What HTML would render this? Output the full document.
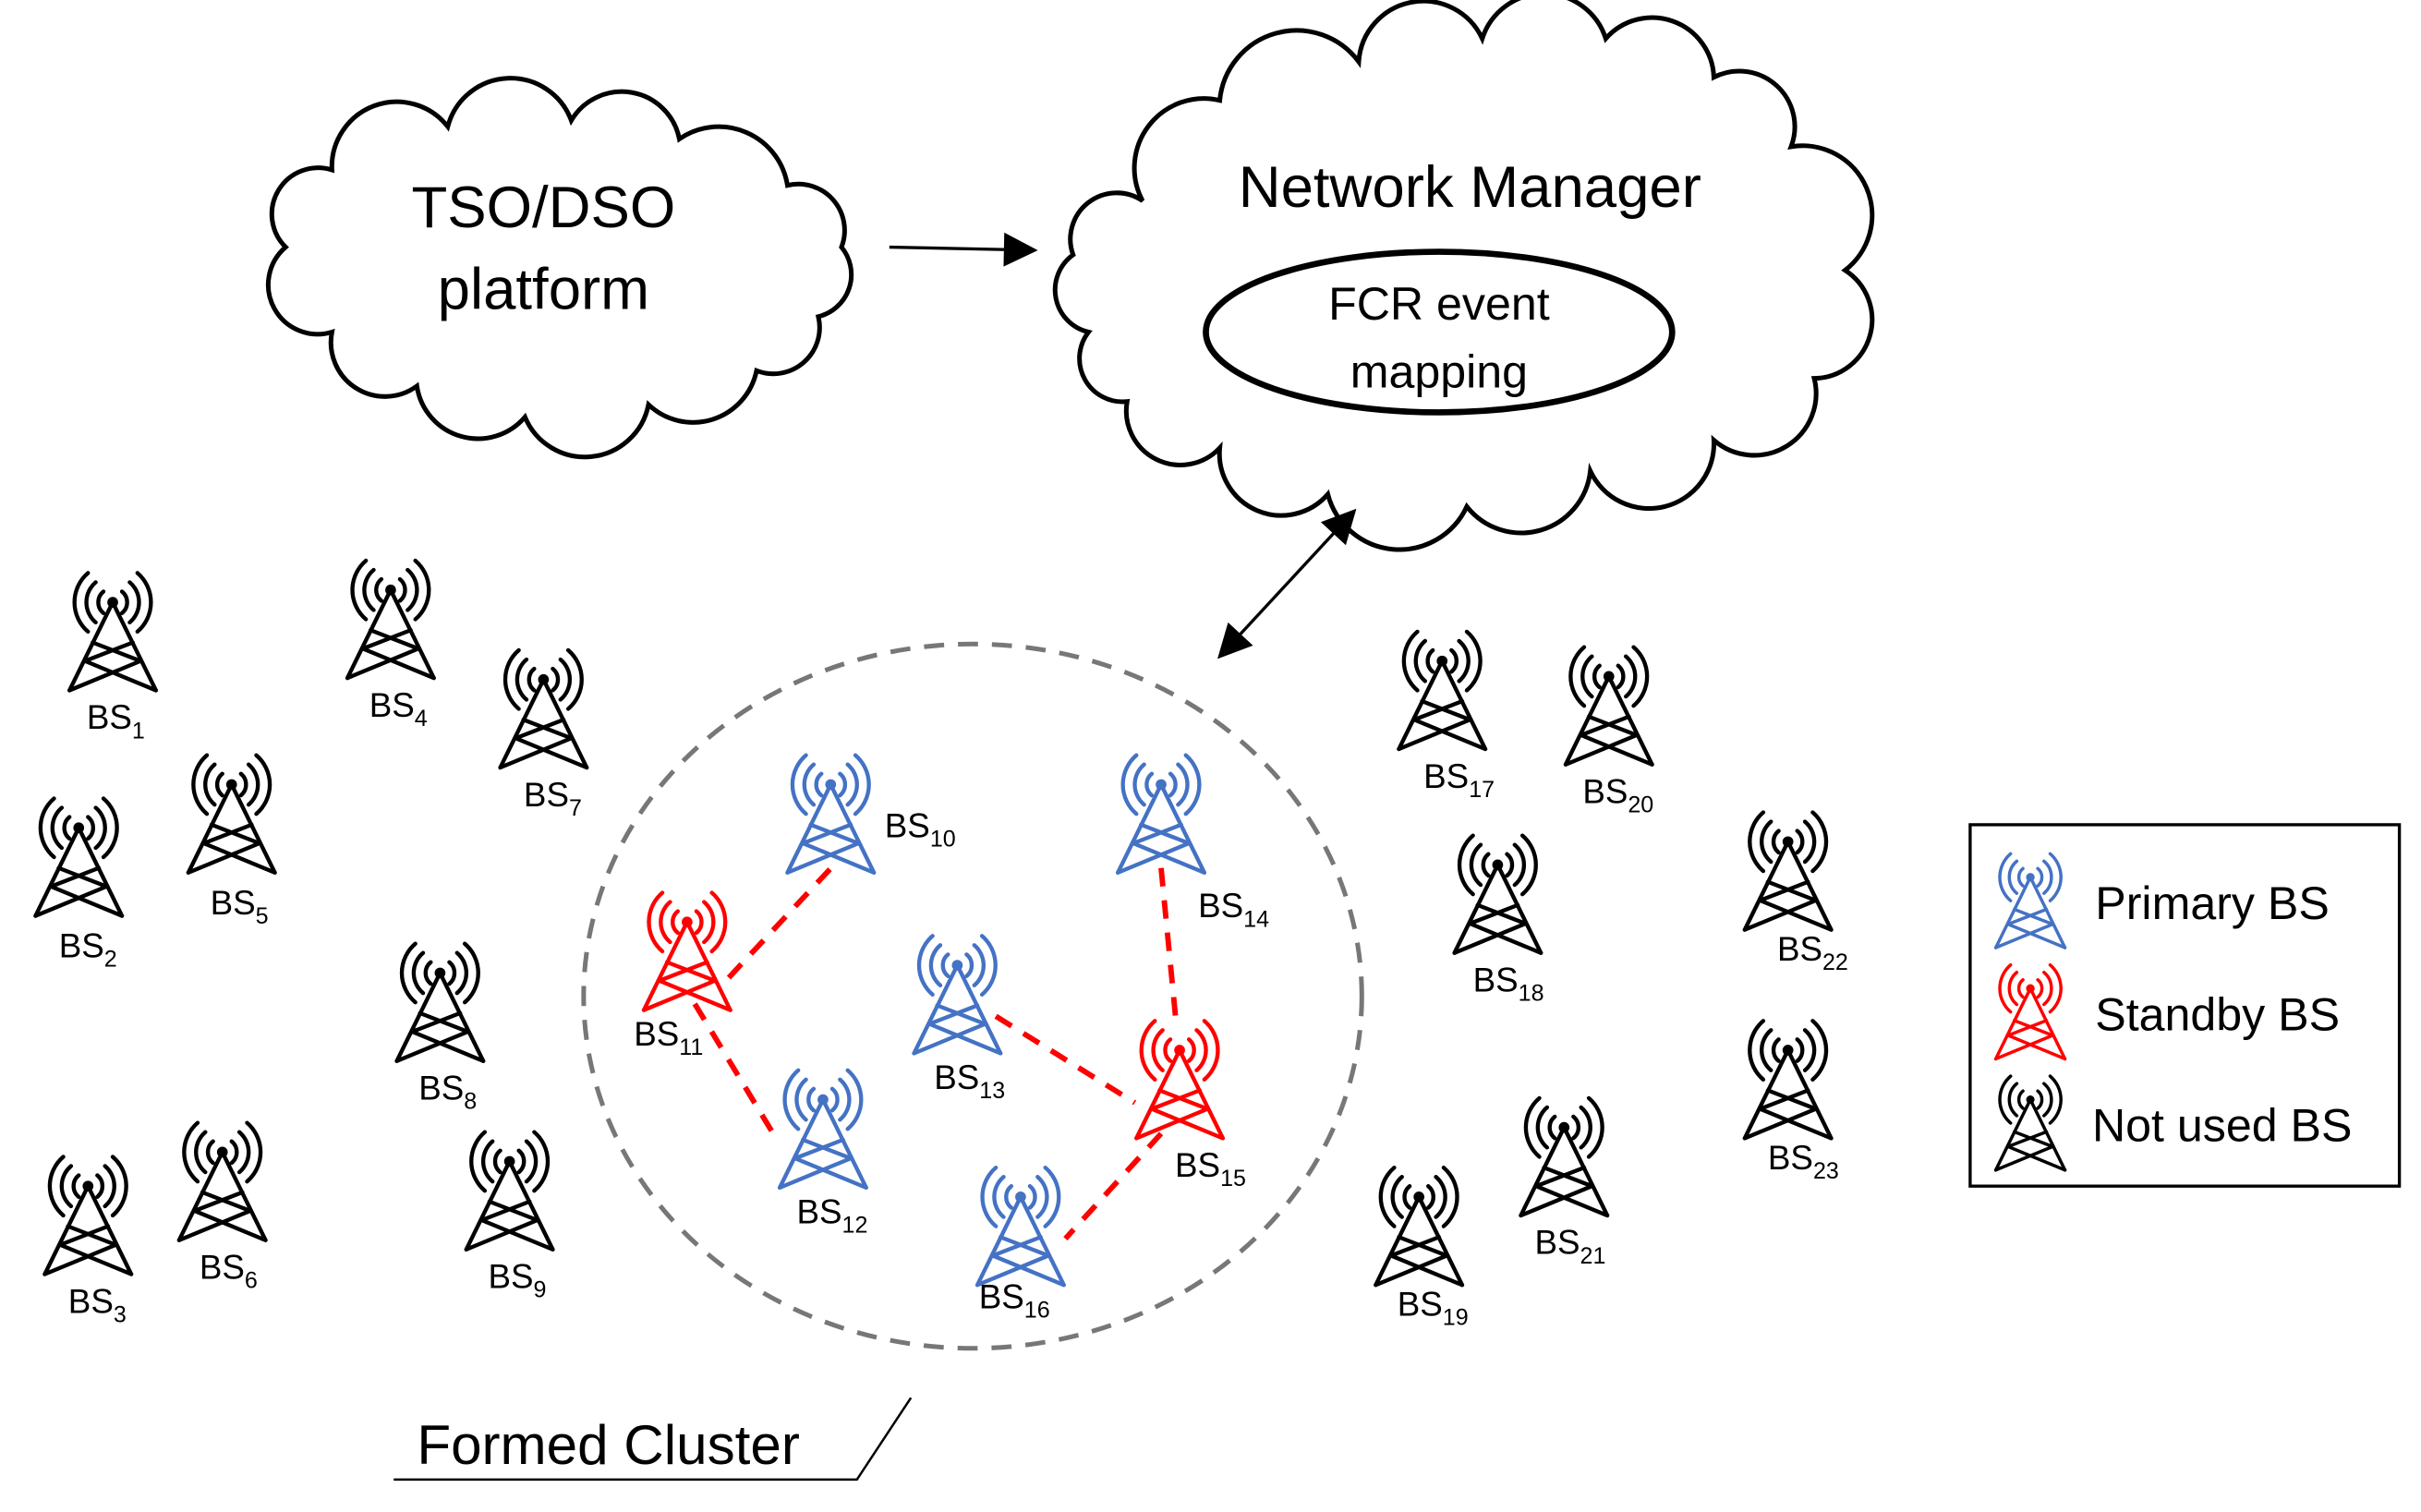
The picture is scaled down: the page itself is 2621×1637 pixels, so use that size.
<!DOCTYPE html>
<html><head><meta charset="utf-8"><style>
html,body{margin:0;padding:0;background:#fff;}
svg{display:block;}
text{font-family:"Liberation Sans",sans-serif;}
</style></head><body>
<svg width="2621" height="1637" viewBox="0 0 1568 979" preserveAspectRatio="none" xmlns="http://www.w3.org/2000/svg">
<defs>
<g id="tw" fill="none" stroke-width="2.6" stroke-linecap="round">
  <path d="M0,0 L-28,57 M0,0 L28,57"/>
  <path d="M-13,26 L18,38 M13,26 L-18,38 M-18,38 L28,57 M18,38 L-28,57"/>
  <path d="M-6,-7 A9,9 0 0 0 -6,7 M6,-7 A9,9 0 0 1 6,7"/>
  <path d="M-11,-13 A17,17 0 0 0 -11,13 M11,-13 A17,17 0 0 1 11,13"/>
  <path d="M-16,-19 A25,25 0 0 0 -16,19 M16,-19 A25,25 0 0 1 16,19"/>
</g>
<marker id="ah" markerWidth="10" markerHeight="10" refX="9" refY="5" orient="auto" markerUnits="userSpaceOnUse"><path d="M0,0 L24,5 L0,10Z" fill="#000"/></marker>
<marker id="a2" viewBox="0 0 10 10" markerWidth="24" markerHeight="22" refX="9" refY="5" orient="auto-start-reverse" markerUnits="userSpaceOnUse"><path d="M0,0 L10,5 L0,10Z" fill="#000"/></marker>
</defs>

<!-- TSO cloud -->
<path d="M215,110 A42,42 0 0 1 290,82 A42,42 0 0 1 370,78 A38,38 0 0 1 440,90 A45,45 0 0 1 510,120 A30,30 0 0 1 545,160 A28,28 0 0 1 530,205 A30,30 0 0 1 490,240 A42,42 0 0 1 420,262 A42,42 0 0 1 340,270 A40,40 0 0 1 270,250 A35,35 0 0 1 215,215 A32,32 0 0 1 185,160 A30,30 0 0 1 215,110Z" fill="#fff" stroke="#000" stroke-width="3"/>
<text x="352" y="147" font-size="38" text-anchor="middle">TSO/DSO</text>
<text x="352" y="200" font-size="38" text-anchor="middle">platform</text>

<!-- NM cloud -->
<path d="M740,130 A45,45 0 0 1 790,65 A50,50 0 0 1 880,40 A42,42 0 0 1 960,25 A42,42 0 0 1 1040,25 A40,40 0 0 1 1110,50 A36,36 0 0 1 1160,95 A45,45 0 0 1 1195,175 A38,38 0 0 1 1175,245 A40,40 0 0 1 1110,285 A42,42 0 0 1 1030,305 A45,45 0 0 1 950,328 A48,48 0 0 1 860,320 A40,40 0 0 1 790,290 A35,35 0 0 1 730,260 A28,28 0 0 1 705,215 A28,28 0 0 1 695,165 A30,30 0 0 1 740,130Z" fill="#fff" stroke="#000" stroke-width="3"/>
<text x="952" y="134" font-size="38" text-anchor="middle">Network Manager</text>
<ellipse cx="932" cy="215" rx="151" ry="52" fill="#fff" stroke="#000" stroke-width="4"/>
<text x="932" y="207" font-size="30" text-anchor="middle">FCR event</text>
<text x="932" y="251" font-size="30" text-anchor="middle">mapping</text>

<!-- arrows -->
<line x1="576" y1="160" x2="670" y2="162" stroke="#000" stroke-width="2" marker-end="url(#a2)"/>
<line x1="790" y1="425" x2="877" y2="331" stroke="#000" stroke-width="2" marker-start="url(#a2)" marker-end="url(#a2)"/>

<!-- cluster circle -->
<ellipse cx="630" cy="645" rx="252" ry="228" fill="none" stroke="#777" stroke-width="3" stroke-dasharray="13 9"/>

<!-- red dashed links -->
<g stroke="#f00" stroke-width="3.5" stroke-dasharray="12 9" fill="none">
<line x1="472" y1="633" x2="542" y2="558"/>
<line x1="450" y1="650" x2="502" y2="736"/>
<line x1="645" y1="658" x2="735" y2="714"/>
<line x1="752" y1="562" x2="762" y2="665"/>
<line x1="752" y1="734" x2="690" y2="802"/>
</g>

<!-- towers -->
<g stroke="#000" fill="#000">
<use href="#tw" x="73" y="390"/><circle cx="73" cy="390" r="3"/>
<use href="#tw" x="253" y="382"/><circle cx="253" cy="382" r="3"/>
<use href="#tw" x="352" y="440"/><circle cx="352" cy="440" r="3"/>
<use href="#tw" x="150" y="508"/><circle cx="150" cy="508" r="3"/>
<use href="#tw" x="51" y="536"/><circle cx="51" cy="536" r="3"/>
<use href="#tw" x="285" y="630"/><circle cx="285" cy="630" r="3"/>
<use href="#tw" x="57" y="768"/><circle cx="57" cy="768" r="3"/>
<use href="#tw" x="144" y="746"/><circle cx="144" cy="746" r="3"/>
<use href="#tw" x="330" y="752"/><circle cx="330" cy="752" r="3"/>
<use href="#tw" x="934" y="428"/><circle cx="934" cy="428" r="3"/>
<use href="#tw" x="1042" y="438"/><circle cx="1042" cy="438" r="3"/>
<use href="#tw" x="970" y="560"/><circle cx="970" cy="560" r="3"/>
<use href="#tw" x="1158" y="545"/><circle cx="1158" cy="545" r="3"/>
<use href="#tw" x="1158" y="680"/><circle cx="1158" cy="680" r="3"/>
<use href="#tw" x="1013" y="730"/><circle cx="1013" cy="730" r="3"/>
<use href="#tw" x="919" y="775"/><circle cx="919" cy="775" r="3"/>
</g>
<g stroke="#4472C4" fill="#4472C4">
<use href="#tw" x="538" y="508"/><circle cx="538" cy="508" r="3"/>
<use href="#tw" x="752" y="508"/><circle cx="752" cy="508" r="3"/>
<use href="#tw" x="620" y="625"/><circle cx="620" cy="625" r="3"/>
<use href="#tw" x="533" y="712"/><circle cx="533" cy="712" r="3"/>
<use href="#tw" x="661" y="775"/><circle cx="661" cy="775" r="3"/>
</g>
<g stroke="#f00" fill="#f00">
<use href="#tw" x="445" y="597"/><circle cx="445" cy="597" r="3"/>
<use href="#tw" x="764" y="680"/><circle cx="764" cy="680" r="3"/>
</g>

<!-- labels -->
<g font-size="22" text-anchor="middle">
<text x="75" y="472">BS<tspan font-size="15" dy="6">1</tspan></text>
<text x="258" y="464">BS<tspan font-size="15" dy="6">4</tspan></text>
<text x="358" y="522">BS<tspan font-size="15" dy="6">7</tspan></text>
<text x="155" y="592">BS<tspan font-size="15" dy="6">5</tspan></text>
<text x="57" y="620">BS<tspan font-size="15" dy="6">2</tspan></text>
<text x="290" y="712">BS<tspan font-size="15" dy="6">8</tspan></text>
<text x="63" y="850">BS<tspan font-size="15" dy="6">3</tspan></text>
<text x="148" y="828">BS<tspan font-size="15" dy="6">6</tspan></text>
<text x="335" y="834">BS<tspan font-size="15" dy="6">9</tspan></text>
<text x="596" y="542">BS<tspan font-size="15" dy="6">10</tspan></text>
<text x="433" y="677">BS<tspan font-size="15" dy="6">11</tspan></text>
<text x="799" y="594">BS<tspan font-size="15" dy="6">14</tspan></text>
<text x="628" y="705">BS<tspan font-size="15" dy="6">13</tspan></text>
<text x="539" y="792">BS<tspan font-size="15" dy="6">12</tspan></text>
<text x="784" y="762">BS<tspan font-size="15" dy="6">15</tspan></text>
<text x="657" y="847">BS<tspan font-size="15" dy="6">16</tspan></text>
<text x="945" y="510">BS<tspan font-size="15" dy="6">17</tspan></text>
<text x="1048" y="520">BS<tspan font-size="15" dy="6">20</tspan></text>
<text x="977" y="642">BS<tspan font-size="15" dy="6">18</tspan></text>
<text x="1174" y="622">BS<tspan font-size="15" dy="6">22</tspan></text>
<text x="1168" y="757">BS<tspan font-size="15" dy="6">23</tspan></text>
<text x="1017" y="812">BS<tspan font-size="15" dy="6">21</tspan></text>
<text x="928" y="852">BS<tspan font-size="15" dy="6">19</tspan></text>
</g>

<!-- legend -->
<rect x="1276" y="534" width="278" height="234" fill="#fff" stroke="#000" stroke-width="2"/>
<g transform="translate(1315,568) scale(0.8)" stroke="#4472C4" fill="#4472C4"><use href="#tw"/><circle r="3"/></g>
<g transform="translate(1315,640) scale(0.8)" stroke="#f00" fill="#f00"><use href="#tw"/><circle r="3"/></g>
<g transform="translate(1315,712) scale(0.8)" stroke="#000" fill="#000" stroke-width="0.8"><use href="#tw"/><circle r="3"/></g>
<g font-size="30">
<text x="1357" y="595">Primary BS</text>
<text x="1357" y="667">Standby BS</text>
<text x="1355" y="739">Not used BS</text>
</g>

<!-- formed cluster -->
<text x="270" y="948" font-size="36">Formed Cluster</text>
<path d="M255,958 L555,958 L590,905" fill="none" stroke="#000" stroke-width="1.5"/>
</svg>
</body></html>
